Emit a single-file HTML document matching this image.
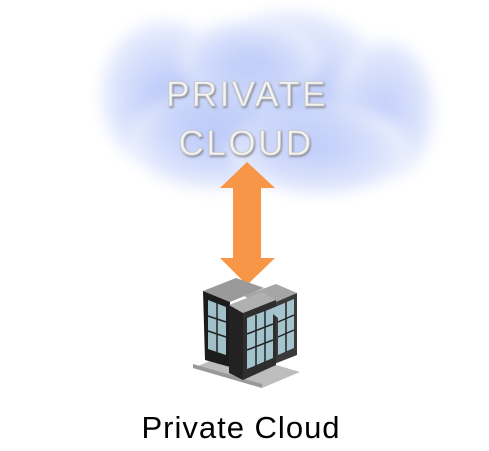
<!DOCTYPE html>
<html><head><style>
html,body{margin:0;padding:0;background:#fff;}
</style></head><body>
<svg width="489" height="446" viewBox="0 0 489 446" xmlns="http://www.w3.org/2000/svg">
<defs>
<filter id="b" x="-50%" y="-50%" width="200%" height="200%"><feGaussianBlur stdDeviation="7"/></filter>
<filter id="b2" x="-50%" y="-50%" width="200%" height="200%"><feGaussianBlur stdDeviation="20"/></filter>
<filter id="ts"><feDropShadow dx="1" dy="1.5" stdDeviation="1" flood-color="#777" flood-opacity="0.8"/></filter>
<radialGradient id="rg" cx="0.5" cy="0.5" r="0.5">
<stop offset="0" stop-color="#c2cffa"/><stop offset="0.7" stop-color="#dae2fc"/><stop offset="1" stop-color="#eef2fe"/></radialGradient>
</defs>
<g filter="url(#b)" fill="url(#rg)">
<ellipse cx="165" cy="95" rx="65" ry="75"/>
<ellipse cx="290" cy="85" rx="95" ry="75"/>
<ellipse cx="385" cy="110" rx="50" ry="70"/>
<ellipse cx="215" cy="140" rx="85" ry="50"/>
<ellipse cx="320" cy="150" rx="90" ry="45"/>
<ellipse cx="250" cy="60" rx="70" ry="40"/>
</g>
<ellipse cx="250" cy="105" rx="110" ry="40" fill="#a9bbf6" opacity="0.45" filter="url(#b2)"/>
<g font-family="'Liberation Sans',sans-serif" font-size="35" fill="#f4f4f4" stroke="#c8c8c8" stroke-width="0.8" text-anchor="middle" letter-spacing="2.5" filter="url(#ts)">
<text x="247" y="106">PRIVATE</text>
<text x="246" y="155">CLOUD</text>
</g>
<polygon points="247,162 275,188 261,188 261,258 275,258 247,285 220,258 233,258 233,188 220,188" fill="#f79646"/>
<!-- building -->
<polygon points="193,368 262,388 300,372 232,352" fill="#bdbdbd"/>
<polygon points="193,368 262,388 262,384 193,364" fill="#999"/>
<polygon points="203,291 236,278 264,288 230,302" fill="#9a9a9a"/>
<polygon points="203,291 230,302 230,367 205,360" fill="#1c1c1c"/>
<polygon points="244,296 276,284 297,293 264,307" fill="#a5a5a5"/>
<polygon points="264,307 297,293 297,355 264,368" fill="#3a3a3a"/>
<polygon points="229,305 262,292 276,300 243,313" fill="#b0b0b0"/>
<polygon points="229,305 243,313 243,380 229,373" fill="#222"/>
<polygon points="243,313 276,300 276,365 243,380" fill="#2e2e2e"/>
<g fill="#b8dde8" opacity="0.85">
<polygon points="208,300 226,307 226,355 208,349"/>
<polygon points="247,318 273,308 273,358 247,369"/>
<polygon points="268,310 294,299 294,348 278,355 278,318"/>
</g>
<g stroke="#222" stroke-width="1.5">
<line x1="208" y1="316" x2="226" y2="322"/><line x1="208" y1="331" x2="226" y2="337"/>
<line x1="247" y1="334" x2="273" y2="324"/><line x1="247" y1="350" x2="273" y2="340"/>
<line x1="278" y1="322" x2="294" y2="315"/><line x1="278" y1="337" x2="294" y2="330"/>
<line x1="256" y1="315" x2="256" y2="366"/><line x1="265" y1="311" x2="265" y2="362"/>
<line x1="286" y1="302" x2="286" y2="352"/><line x1="217" y1="303" x2="217" y2="352"/>
</g>
<text x="241" y="438" font-family="'Liberation Sans',sans-serif" font-size="31" fill="#000" text-anchor="middle" letter-spacing="1">Private Cloud</text>
</svg>
</body></html>
